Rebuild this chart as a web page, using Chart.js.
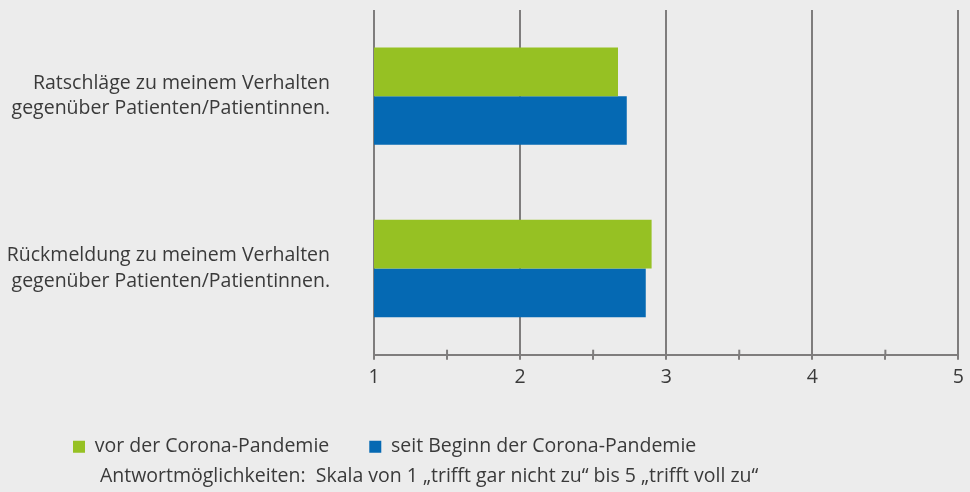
<!DOCTYPE html>
<html>
<head>
<meta charset="utf-8">
<script src="https://cdn.jsdelivr.net/npm/chart.js@4/dist/chart.umd.min.js"></script>
<style>
  html, body { margin: 0; padding: 0; background: #ececec; }
  #wrap { width: 970px; height: 492px; position: relative; }
</style>
</head>
<body>
<div id="wrap"><canvas id="c"></canvas></div>
<script>
// ---- data ----
const categories = [
  ["Ratschläge zu meinem Verhalten", "gegenüber Patienten/Patientinnen."],
  ["Rückmeldung zu meinem Verhalten", "gegenüber Patienten/Patientinnen."]
];
const seriesNames = ["vor der Corona-Pandemie", "seit Beginn der Corona-Pandemie"];
const vorValues = [2.67, 2.90];
const seitValues = [2.73, 2.86];
const xTickLabels = ["1", "2", "3", "4", "5"];
const noteText = "Antwortmöglichkeiten:  Skala von 1 \u201Etrifft gar nicht zu\u201C bis 5 \u201Etrifft voll zu\u201C";

// ---- styles ----
const GREEN = "#96c123";
const BLUE = "#0569b3";
const GRID = "#7f7d7d";
const TEXT = "#3a3a3a";
const FONT = "'Open Sans', 'Noto Sans', sans-serif";
const FS = 19.5;

const shiftPlugin = {
  id: 'shiftBottom',
  afterLayout(chart) {
    const lg = chart.legend;
    if (lg) { lg.left += 33; lg.right += 33; lg.top += 2; lg.bottom += 2; }
    const tb = chart.titleBlock;
    if (tb) { tb.left += 100; tb.right += 100; }
  }
};

const minorTickPlugin = {
  id: 'minorTicks',
  afterDatasetsDraw(chart) {
    const xs = chart.scales.x;
    const ctx = chart.ctx;
    ctx.save();
    ctx.strokeStyle = GRID;
    ctx.lineWidth = 2;
    xs.ticks.forEach(t => {
      if (t.value % 1 !== 0) {
        const px = xs.getPixelForValue(t.value);
        ctx.beginPath();
        ctx.moveTo(px, xs.top - 5);
        ctx.lineTo(px, xs.top);
        ctx.stroke();
      }
    });
    ctx.restore();
  }
};

new Chart(document.getElementById('c'), {
  type: 'bar',
  data: {
    labels: categories,
    datasets: [
      { label: seriesNames[0], data: vorValues, backgroundColor: GREEN, borderWidth: 0 },
      { label: seriesNames[1], data: seitValues, backgroundColor: BLUE, borderWidth: 0 }
    ]
  },
  options: {
    indexAxis: 'y',
    responsive: true,
    maintainAspectRatio: false,
    animation: false,
    categoryPercentage: 0.565,
    barPercentage: 1.0,
    layout: { padding: { top: 10, right: 2, left: 0, bottom: 0 } },
    scales: {
      x: {
        min: 1, max: 5,
        ticks: {
          stepSize: 0.5,
          autoSkip: false,
          maxRotation: 0,
          color: TEXT,
          font: { family: FONT, size: FS },
          padding: 6,
          callback: (v) => (v % 1 === 0 ? xTickLabels[v - 1] : '')
        },
        grid: {
          color: (c) => (c.tick && c.tick.value % 1 === 0 ? GRID : 'rgba(0,0,0,0)'),
          tickColor: GRID,
          lineWidth: 2,
          tickLength: 5,
          drawTicks: true
        },
        border: { display: true, color: GRID, width: 2 }
      },
      y: {
        grid: { display: false },
        border: { display: false },
        ticks: {
          color: TEXT,
          font: { family: FONT, size: FS, lineHeight: 1.3 },
          padding: 36
        },
        afterFit: (s) => { s.width = 374; s.paddingTop = 0; s.paddingBottom = 0; }
      }
    },
    plugins: {
      legend: {
        position: 'bottom',
        align: 'start',
        labels: {
          boxWidth: 12,
          boxHeight: 12,
          padding: 40,
          color: TEXT,
          font: { family: FONT, size: FS }
        }
      },
      title: {
        display: true,
        text: noteText,
        position: 'bottom',
        align: 'start',
        color: TEXT,
        font: { family: FONT, size: FS, weight: 'normal' },
        padding: { top: 0, bottom: 4 }
      },
      tooltip: { enabled: false }
    }
  },
  plugins: [shiftPlugin, minorTickPlugin]
});
</script>
</body>
</html>
